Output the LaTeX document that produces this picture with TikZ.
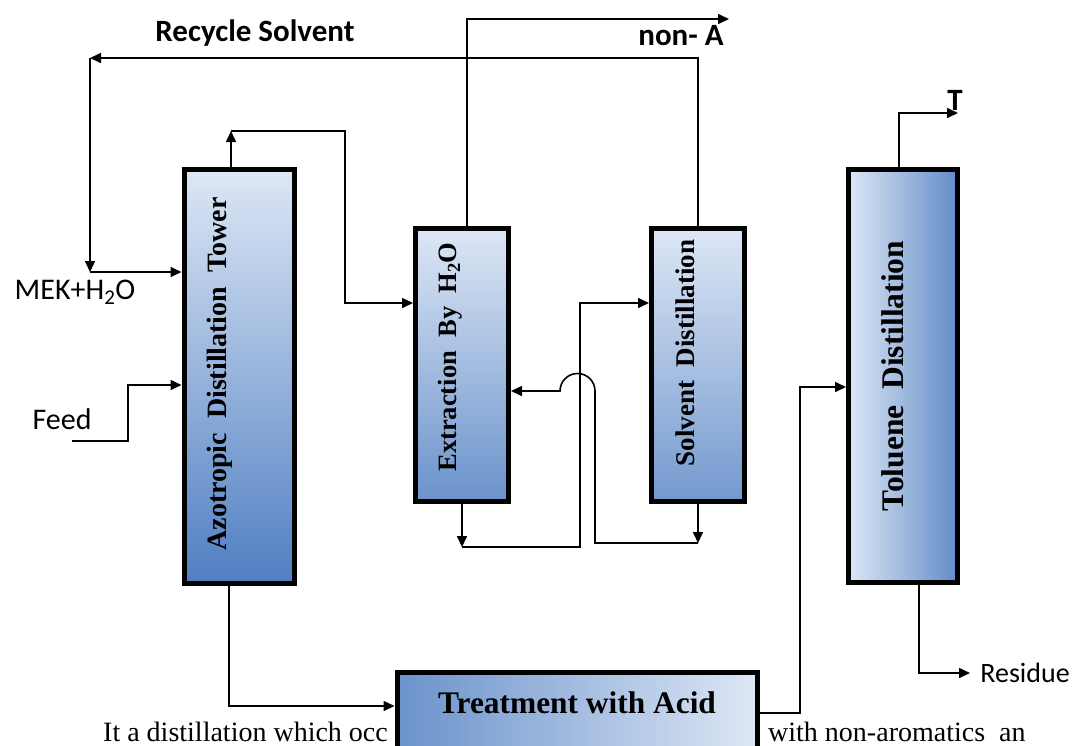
\documentclass[tikz,border=0pt]{standalone}
\usepackage{fontspec}
\setmainfont{Liberation Serif}
\newfontfamily\calibri{Carlito}
\usepackage{xcolor}
\usetikzlibrary{arrows.meta,positioning,calc}
\definecolor{towerlight}{RGB}{221,231,245}
\definecolor{towerdark}{RGB}{80,127,194}

\begin{document}
\begin{tikzpicture}[
  x=1pt, y=1pt,
  unit/.style={draw=black, line width=5pt, inner sep=0pt},
  unitlbl/.style={rotate=90, inner sep=0pt},
  stream/.style={draw=black, line width=1.6pt},
  flow/.style={stream, -{Triangle[length=11pt,width=10pt]}},
  tag/.style={font=\calibri\fontsize{30}{32}\selectfont, inner sep=0pt},
  boldtag/.style={font=\calibri\bfseries\fontsize{31}{33}\selectfont, inner sep=0pt}
]
  \useasboundingbox (0,0) rectangle (1075,-745);
  \clip (0,0) rectangle (1075,-745);

  % page text running behind the acid unit
  \node[font=\fontsize{28}{30}\selectfont, anchor=base west, inner sep=0pt] (txtl) at (103,-741) {It a distillation which occ};
  \node[font=\fontsize{28}{30}\selectfont, anchor=base west, inner sep=0pt] (txtr) at (768,-741) {with non-aromatics~~an};

  % units
  \node[unit, minimum width=110pt, minimum height=414pt, top color=towerlight, bottom color=towerdark] (azo) at (239,-376) {};
  \node[unit, minimum width=93pt, minimum height=273pt, top color=towerlight, bottom color=towerdark!85] (ext) at (462,-365) {};
  \node[unit, minimum width=93pt, minimum height=273pt, top color=towerlight, bottom color=towerdark!80] (sol) at (698,-365) {};
  \node[unit, minimum width=109pt, minimum height=413pt, left color=towerlight, right color=towerdark!90] (tol) at (903,-376) {};
  \node[unit, minimum width=360pt, minimum height=235pt, left color=towerdark!85, right color=towerlight] (acid) at (577,-790) {};

  \node[unitlbl, font=\bfseries\fontsize{28}{30}\selectfont] (azotxt) at (220,-374) {Azotropic~~Distillation~~Tower};
  \node[unitlbl, font=\bfseries\fontsize{26.5}{28}\selectfont] (exttxt) at (450,-357) {Extraction~~By~~H\textsubscript{2}O};
  \node[unitlbl, font=\bfseries\fontsize{27}{29}\selectfont] (soltxt) at (685,-353) {Solvent~~Distillation};
  \node[unitlbl, font=\bfseries\fontsize{31.5}{33}\selectfont] (toltxt) at (893,-376) {Toluene~~Distillation};
  \node[font=\bfseries\fontsize{31.4}{33}\selectfont, inner sep=0pt] (acidtxt) at (577,-703) {Treatment with Acid};

  % stream labels
  \node[boldtag] (recyclbl) at (255,-33) {Recycle Solvent};
  \node[boldtag] (nonalbl) at (681,-36) {non- A};
  \node[boldtag] (tlbl) at (955,-100) {T};
  \node[tag] (meklbl) at (75,-292) {MEK+H\textsubscript{2}O};
  \node[tag] (feedlbl) at (62,-419) {Feed};
  \node[tag, font=\calibri\fontsize{28}{30}\selectfont] (reslbl) at (1025,-673) {Residue};

  % recycle solvent loop
  \coordinate (recyc) at (90,-58);
  \coordinate (mek) at (90,-272);
  \draw[flow] (sol.north) |- (recyc);
  \draw[flow] (recyc) -- (mek);
  \draw[flow] (mek) -- (mek -| azo.west);

  % feed
  \coordinate (feedin) at (72,-441);
  \coordinate (feedup) at (128,-385);
  \draw[flow] (feedin) -| (feedup) -- (feedup -| azo.west);

  % azeotrope overhead to extraction
  \coordinate (azotop) at (231,-131);
  \coordinate (extin) at (345,-303);
  \draw[flow] ([xshift=-8pt]azo.north) -- (azotop);
  \draw[flow] (azotop) -| (extin) -- (extin -| ext.west);

  % non-aromatics
  \coordinate (nona) at (729,-19);
  \draw[flow] ([xshift=5pt]ext.north) |- (nona);

  % extract to solvent column
  \coordinate (extbot) at (462,-547);
  \coordinate (solin) at (580,-303);
  \draw[flow] (ext.south) -- (extbot);
  \draw[flow] (extbot) -| (solin) -- (solin -| sol.west);

  % water back to extraction
  \coordinate (solbot) at (698,-543);
  \coordinate (hop) at (595,-391);
  \draw[flow] (sol.south) -- (solbot);
  \draw[flow] (solbot) -| (hop) arc[start angle=0, end angle=180, radius=17.5] -- (hop -| ext.east);

  % bottoms to acid treatment
  \coordinate (azobot) at (229,-706);
  \draw[flow] ([xshift=-10pt]azo.south) |- (acid.west |- azobot);

  % acid product to toluene column
  \coordinate (acidout) at (800,-713);
  \coordinate (tolin) at (800,-387);
  \draw[flow] (acid.east |- acidout) -| (tolin) -- (tolin -| tol.west);

  % toluene column products
  \coordinate (tout) at (958,-113);
  \coordinate (resid) at (970,-673);
  \draw[flow] ([xshift=-4pt]tol.north) |- (tout);
  \draw[flow] ([xshift=16pt]tol.south) |- (resid);
\end{tikzpicture}
\end{document}
